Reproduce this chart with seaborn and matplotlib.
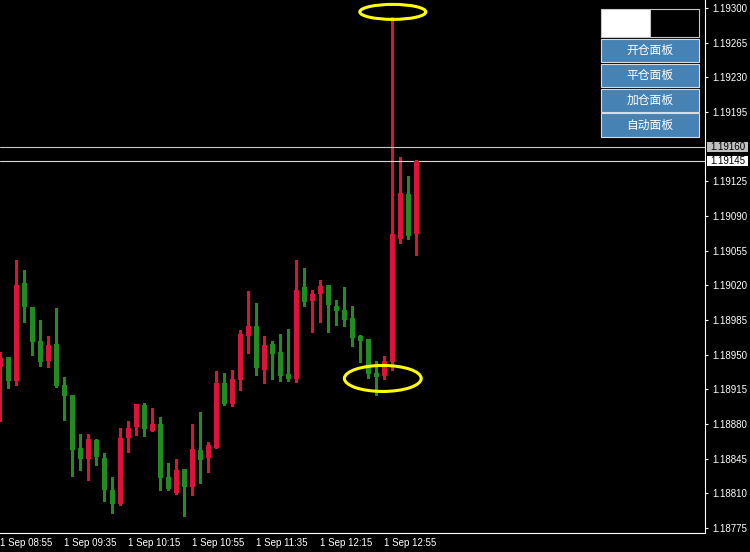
import matplotlib
matplotlib.use("Agg")
import matplotlib.pyplot as plt
import matplotlib.transforms as mtransforms
from matplotlib.patches import Rectangle, Ellipse
import seaborn as sns
import pandas as pd
import numpy as np

# 5 minute EURUSD candles, 1 Sep 08:55 .. 13:15
opens = [1.18938, 1.18948, 1.18923, 1.19022, 1.18998, 1.18964, 1.18944, 1.18961, 1.18919, 1.18909,
         1.18856, 1.18845, 1.18864, 1.18846, 1.18813, 1.18799, 1.18866, 1.18877, 1.18899, 1.18873,
         1.18880, 1.18827, 1.18810, 1.18835, 1.18816, 1.18854, 1.18846, 1.18856, 1.18921, 1.18900,
         1.18924, 1.18969, 1.18979, 1.18935, 1.18961, 1.18953, 1.18930, 1.18925, 1.19018, 1.19004,
         1.19011, 1.19020, 1.18999, 1.18995, 1.18987, 1.18969, 1.18966, 1.18931, 1.18928, 1.18943,
         1.19067, 1.19112, 1.19072]
highs = [1.18953, 1.18948, 1.19046, 1.19035, 1.18998, 1.18985, 1.18969, 1.18997, 1.18927, 1.18909,
         1.18870, 1.18870, 1.18865, 1.18851, 1.18827, 1.18876, 1.18883, 1.18900, 1.18901, 1.18896,
         1.18887, 1.18841, 1.18845, 1.18835, 1.18880, 1.18892, 1.18862, 1.18934, 1.18931, 1.18935,
         1.18975, 1.19014, 1.19002, 1.18969, 1.18964, 1.18971, 1.18976, 1.19046, 1.19037, 1.19015,
         1.19025, 1.19020, 1.19005, 1.19018, 1.18999, 1.18970, 1.18966, 1.18944, 1.18949, 1.19291,
         1.19150, 1.19130, 1.19146]
lows = [1.18883, 1.18916, 1.18919, 1.18983, 1.18950, 1.18939, 1.18938, 1.18917, 1.18884, 1.18828,
        1.18834, 1.18823, 1.18839, 1.18802, 1.18790, 1.18798, 1.18852, 1.18869, 1.18868, 1.18873,
        1.18813, 1.18813, 1.18809, 1.18787, 1.18808, 1.18820, 1.18832, 1.18856, 1.18899, 1.18898,
        1.18914, 1.18952, 1.18929, 1.18921, 1.18925, 1.18923, 1.18923, 1.18922, 1.18999, 1.18973,
        1.18983, 1.18973, 1.18980, 1.18979, 1.18959, 1.18943, 1.18926, 1.18909, 1.18925, 1.18935,
        1.19063, 1.19067, 1.19051]
closes = [1.18947, 1.18923, 1.19020, 1.18998, 1.18963, 1.18943, 1.18960, 1.18918, 1.18908, 1.18854,
          1.18845, 1.18865, 1.18847, 1.18813, 1.18799, 1.18866, 1.18876, 1.18900, 1.18875, 1.18880,
          1.18826, 1.18814, 1.18834, 1.18816, 1.18855, 1.18844, 1.18859, 1.18921, 1.18900, 1.18925,
          1.18971, 1.18979, 1.18937, 1.18960, 1.18951, 1.18928, 1.18925, 1.19015, 1.19003, 1.19011,
          1.19019, 1.19000, 1.18994, 1.18985, 1.18967, 1.18964, 1.18930, 1.18927, 1.18944, 1.19072,
          1.19113, 1.19070, 1.19145]

time_ticks = [0, 8, 16, 24, 32, 40, 48]
time_labels = ["1 Sep 08:55", "1 Sep 09:35", "1 Sep 10:15", "1 Sep 10:55",
               "1 Sep 11:35", "1 Sep 12:15", "1 Sep 12:55"]
price_ticks = [1.18775, 1.18810, 1.18845, 1.18880, 1.18915, 1.18950, 1.18985, 1.19020,
               1.19055, 1.19090, 1.19125, 1.19195, 1.19230, 1.19265, 1.19300]
ask_price = 1.19160
bid_price = 1.19145
buttons = ["开仓面板", "平仓面板", "加仓面板", "自动面板"]

UP = "#DC143C"
DOWN = "#228B22"
W, H = 750, 552

sns.set_style("dark", {"axes.facecolor": "black", "figure.facecolor": "black"})
plt.rcParams["font.family"] = ["Liberation Sans", "Noto Sans CJK SC", "DejaVu Sans"]

fig = plt.figure(figsize=(W / 100, H / 100), dpi=100, facecolor="black")
ax = fig.add_axes([0, 19 / H, 705 / W, 533 / H])
ax.set_facecolor("black")

n = len(opens)
idx = np.arange(n)
o = np.array(opens)
c = np.array(closes)
direction = np.where(c >= o, "up", "down")

# wicks
wick = pd.DataFrame({
    "k": np.repeat(idx, 2),
    "price": np.column_stack([lows, highs]).ravel(),
    "dir": np.repeat(direction, 2),
})
sns.lineplot(data=wick, x="k", y="price", units="k", estimator=None, hue="dir",
             palette={"up": UP, "down": DOWN}, legend=False, lw=0.8,
             antialiased=False, sort=False, ax=ax)

# bodies
bottom = np.minimum(o, c)
height = np.maximum(np.abs(c - o), 0.00001)
colors = [UP if d == "up" else DOWN for d in direction]
ax.bar(idx, height, bottom=bottom, width=0.625, color=colors, linewidth=0,
       antialiased=False, zorder=3)

# price lines
ax.axhline(ask_price, color="#c8c8c8", lw=0.8, zorder=2)
ax.axhline(bid_price, color="#d8d8d8", lw=0.8, zorder=2)

ax.set_xlim(-0.05, -0.05 + 705 / 8)
ax.set_ylim(1.18770, 1.19308)
ax.set_xlabel("")
ax.set_ylabel("")

ax.yaxis.tick_right()
ax.set_yticks(price_ticks)
ax.set_yticklabels([f"{p:.5f}" for p in price_ticks])
ax.set_xticks(time_ticks)
ax.set_xticklabels(time_labels, ha="left")
ax.tick_params(axis="y", direction="out", length=2, width=0.8, colors="white",
               labelsize=7, pad=3, right=True, left=False)
ax.tick_params(axis="x", direction="out", length=2, width=0.8, colors="white",
               labelsize=7, pad=1.5)
for side in ["top", "left"]:
    ax.spines[side].set_visible(False)
for side in ["bottom", "right"]:
    ax.spines[side].set_visible(True)
    ax.spines[side].set_color("white")
    ax.spines[side].set_linewidth(0.8)
ax.grid(False)

# price label boxes on the scale
blend = mtransforms.blended_transform_factory(fig.transFigure, ax.transData)
px = (ax.get_ylim()[1] - ax.get_ylim()[0]) / 533
for price, bg in [(ask_price, "#c0c0c0"), (bid_price, "white")]:
    ax.add_patch(Rectangle((707 / W, price - 5 * px), 41 / W, 10 * px, transform=blend,
                           facecolor=bg, edgecolor="none", clip_on=False, zorder=5))
    ax.text(727.5 / W, price, f"{price:.5f}", transform=blend, ha="center", va="center",
            color="black", fontsize=7, clip_on=False, zorder=6)

# yellow ellipses
spike = int(np.argmax(highs))
ax.add_patch(Ellipse((spike + 0.05, 1.19296), 8.25, 15 * px, fill=False,
                     edgecolor="#FFFF00", lw=2.2, zorder=10))
ax.add_patch(Ellipse((47.8, 1.18926), 9.6, 26 * px, fill=False,
                     edgecolor="#FFFF00", lw=2.2, zorder=10))


def box(x, y, w, h, fc, ec):
    r = Rectangle((x / W, 1 - (y + h) / H), w / W, h / H, transform=fig.transFigure,
                  facecolor=fc, edgecolor=ec, lw=0.8, zorder=20)
    fig.add_artist(r)


# panel in the top right corner
box(601, 8.5, 49, 28, "white", "#c8c8c8")
box(650, 8.5, 49, 28, "black", "#c8c8c8")
for i, label in enumerate(buttons):
    y0 = 39 + i * 24.8
    box(601, y0, 98, 23.3, "#4682B4", "#dcdcdc")
    fig.text(650 / W, 1 - (y0 + 11.8) / H, label, ha="center", va="center",
             color="white", fontsize=8.5, family=["Noto Sans CJK SC", "DejaVu Sans"],
             zorder=21)

fig.savefig("out.png", dpi=100, facecolor="black")
